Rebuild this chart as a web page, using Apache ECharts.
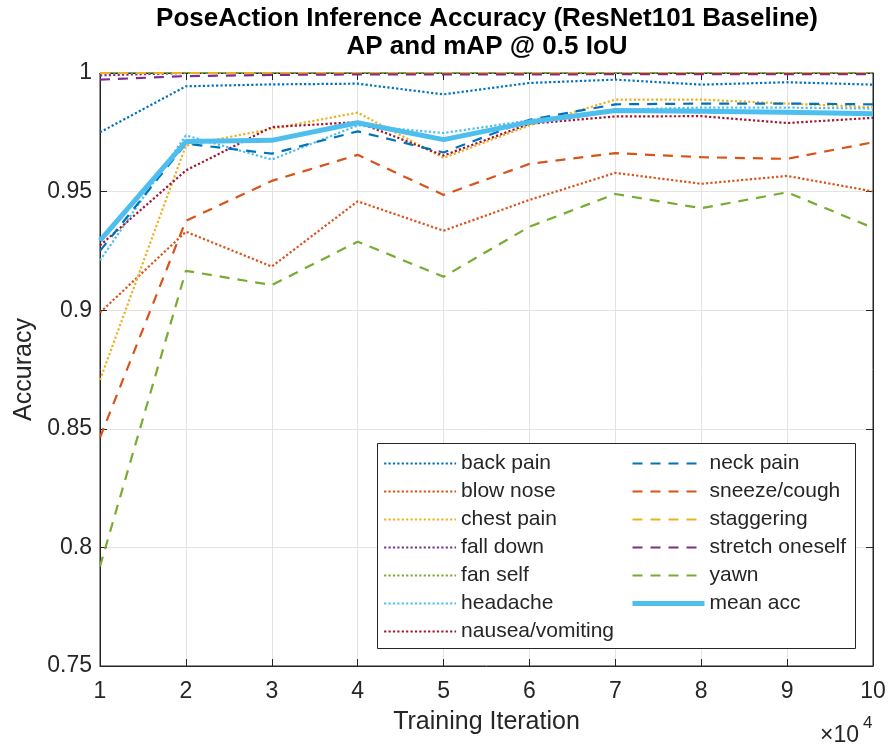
<!DOCTYPE html>
<html>
<head>
<meta charset="utf-8">
<title>PoseAction Inference Accuracy</title>
<script src="https://cdn.jsdelivr.net/npm/echarts@6/dist/echarts.min.js"></script>
<style>
  html, body { margin: 0; padding: 0; background: #ffffff; }
  #chart { width: 890px; height: 747px; }
</style>
</head>
<body>
<div id="chart"></div>
<script>
// Training iterations, in units of 10^4
const iterations = [1, 2, 3, 4, 5, 6, 7, 8, 9, 10];

// Per-class AP at 0.5 IoU
const backPain      = [0.975, 0.9944, 0.9952, 0.9955, 0.991, 0.9958, 0.9972, 0.9951, 0.9961, 0.9951];
const blowNose      = [0.899, 0.9331, 0.9184, 0.9459, 0.9335, 0.9465, 0.9579, 0.9533, 0.9566, 0.9501];
const chestPain     = [0.8706, 0.9694, 0.9765, 0.9833, 0.9642, 0.9779, 0.9888, 0.9888, 0.9871, 0.9856];
const fallDown      = [0.999, 1.0, 1.0, 1.0, 1.0, 1.0, 1.0, 1.0, 1.0, 1.0];
const fanSelf       = [1.0, 1.0, 1.0, 1.0, 1.0, 1.0, 1.0, 1.0, 1.0, 1.0];
const headache      = [0.921, 0.9737, 0.9635, 0.9779, 0.9747, 0.980, 0.9845, 0.9854, 0.9854, 0.985];
const nausea        = [0.9273, 0.9589, 0.9772, 0.9793, 0.9652, 0.9786, 0.9817, 0.9818, 0.9789, 0.9811];
const neckPain      = [0.925, 0.9702, 0.966, 0.9754, 0.9665, 0.9803, 0.9868, 0.9871, 0.9871, 0.9868];
const sneezeCough   = [0.8463, 0.9377, 0.9545, 0.9655, 0.9486, 0.9617, 0.9662, 0.9645, 0.9638, 0.9708];
const staggering    = [1.0, 1.0, 1.0, 1.0, 1.0, 1.0, 1.0, 1.0, 1.0, 1.0];
const stretchOneself= [0.9972, 0.9987, 0.9992, 0.9994, 0.9994, 0.9994, 0.9995, 0.9995, 0.9995, 0.9995];
const yawn          = [0.792, 0.9166, 0.9106, 0.9289, 0.9141, 0.9352, 0.949, 0.943, 0.9497, 0.9347];
const meanAcc       = [0.9293, 0.9711, 0.9716, 0.979, 0.9719, 0.9793, 0.9842, 0.9839, 0.9835, 0.9828];

// Axis tick labels
const yTicks = [0.75, 0.8, 0.85, 0.9, 0.95, 1];
const xTicks = [1, 2, 3, 4, 5, 6, 7, 8, 9, 10];

const FONT = '"Liberation Sans", Arial, Helvetica, sans-serif';
const AXIS_COLOR = '#262626';
const GRID_COLOR = '#e3e3e3';
const DOT = [2.2, 2.2];
const DASH = [10, 8];

const lineDefs = [
  { name: 'back pain',       data: backPain,       color: '#0072BD', dash: DOT,  width: 2.2 },
  { name: 'blow nose',       data: blowNose,       color: '#D95319', dash: DOT,  width: 2.2 },
  { name: 'chest pain',      data: chestPain,      color: '#EDB120', dash: DOT,  width: 2.2 },
  { name: 'fall down',       data: fallDown,       color: '#7E2F8E', dash: DOT,  width: 2.2 },
  { name: 'fan self',        data: fanSelf,        color: '#77AC30', dash: DOT,  width: 2.2 },
  { name: 'headache',        data: headache,       color: '#4DBEEE', dash: DOT,  width: 2.2 },
  { name: 'nausea/vomiting', data: nausea,         color: '#A2142F', dash: DOT,  width: 2.2 },
  { name: 'neck pain',       data: neckPain,       color: '#0072BD', dash: DASH, width: 2.2 },
  { name: 'sneeze/cough',    data: sneezeCough,    color: '#D95319', dash: DASH, width: 2.2 },
  { name: 'staggering',      data: staggering,     color: '#EDB120', dash: DASH, width: 2.2 },
  { name: 'stretch oneself', data: stretchOneself, color: '#7E2F8E', dash: DASH, width: 2.2 },
  { name: 'yawn',            data: yawn,           color: '#77AC30', dash: DASH, width: 2.2 },
  { name: 'mean acc',        data: meanAcc,        color: '#4DBEEE', dash: 'solid', width: 5 }
];

const series = lineDefs.map(function (d, i) {
  return {
    name: d.name,
    type: 'line',
    xAxisIndex: 0,
    yAxisIndex: 0,
    data: iterations.map(function (x, k) { return [x, d.data[k]]; }),
    symbol: 'none',
    showSymbol: false,
    clip: false,
    z: 2 + i * 0.01,
    itemStyle: { color: d.color },
    lineStyle: { color: d.color, width: d.width, type: d.dash, cap: 'butt' },
    emphasis: { disabled: true },
    animation: false
  };
});

// legend entries carry the same stroke width as their series
function legendEntries(defs) {
  return defs.map(function (d) {
    return { name: d.name, lineStyle: { width: d.width, type: d.dash, color: d.color } };
  });
}

const PLOT = { left: 100, right: 873, top: 73, bottom: 666 };

const legendText = { fontFamily: FONT, fontSize: 21, color: AXIS_COLOR, lineHeight: 21 };
const legendCommon = {
  orient: 'vertical',
  itemWidth: 72,
  itemHeight: 14,
  itemGap: 7,
  padding: 0,
  selectedMode: false,
  textStyle: legendText,
  // legend keys show only the line sample, no marker
  itemStyle: { color: 'rgba(0,0,0,0)', borderColor: 'rgba(0,0,0,0)', borderWidth: 0 },
  z: 10
};

const option = {
  backgroundColor: '#ffffff',
  animation: false,
  grid: {
    left: PLOT.left,
    right: 890 - PLOT.right,
    top: PLOT.top,
    bottom: 747 - PLOT.bottom,
    show: true,
    borderColor: AXIS_COLOR,
    borderWidth: 1,
    backgroundColor: '#ffffff'
  },
  xAxis: [
    {
      type: 'value', min: 1, max: 10, interval: 1, position: 'bottom',
      name: 'Training Iteration', nameLocation: 'middle', nameGap: 44,
      nameTextStyle: { fontFamily: FONT, fontSize: 25, color: AXIS_COLOR },
      axisLine: { show: true, lineStyle: { color: AXIS_COLOR, width: 1 } },
      axisTick: { show: true, inside: true, length: 7, lineStyle: { color: AXIS_COLOR } },
      axisLabel: {
        margin: 14, fontFamily: FONT, fontSize: 23, color: AXIS_COLOR,
        formatter: function (v) { return xTicks.indexOf(v) >= 0 ? String(v) : ''; }
      },
      splitLine: { show: true, lineStyle: { color: GRID_COLOR, width: 1 } }
    },
    {
      type: 'value', min: 1, max: 10, interval: 1, position: 'top',
      axisLine: { show: true, lineStyle: { color: AXIS_COLOR, width: 1 } },
      axisTick: { show: true, inside: true, length: 7, lineStyle: { color: AXIS_COLOR } },
      axisLabel: { show: false },
      splitLine: { show: false }
    }
  ],
  yAxis: [
    {
      type: 'value', min: 0.75, max: 1, interval: 0.05, position: 'left',
      name: 'Accuracy', nameLocation: 'middle', nameGap: 62, nameRotate: 90,
      nameTextStyle: { fontFamily: FONT, fontSize: 25, color: AXIS_COLOR },
      axisLine: { show: true, lineStyle: { color: AXIS_COLOR, width: 1 } },
      axisTick: { show: true, inside: true, length: 7, lineStyle: { color: AXIS_COLOR } },
      axisLabel: {
        margin: 8, fontFamily: FONT, fontSize: 23, color: AXIS_COLOR,
        formatter: function (v) {
          const t = yTicks.find(function (y) { return Math.abs(y - v) < 1e-9; });
          return t === undefined ? '' : String(t);
        }
      },
      splitLine: { show: true, lineStyle: { color: GRID_COLOR, width: 1 } }
    },
    {
      type: 'value', min: 0.75, max: 1, interval: 0.05, position: 'right',
      axisLine: { show: true, lineStyle: { color: AXIS_COLOR, width: 1 } },
      axisTick: { show: true, inside: true, length: 7, lineStyle: { color: AXIS_COLOR } },
      axisLabel: { show: false },
      splitLine: { show: false }
    }
  ],
  legend: [
    Object.assign({}, legendCommon, {
      left: 383, top: 453,
      data: legendEntries(lineDefs.slice(0, 7))
    }),
    Object.assign({}, legendCommon, {
      left: 630, top: 453,
      data: legendEntries(lineDefs.slice(7))
    })
  ],
  graphic: [
    {
      type: 'text', x: 487, y: 19, z: 20,
      style: {
        text: 'PoseAction Inference Accuracy (ResNet101 Baseline)',
        font: 'bold 26px ' + FONT, fill: '#000000',
        textAlign: 'center', textVerticalAlign: 'middle'
      }
    },
    {
      type: 'text', x: 487, y: 47, z: 20,
      style: {
        text: 'AP and mAP @ 0.5 IoU',
        font: 'bold 26px ' + FONT, fill: '#000000',
        textAlign: 'center', textVerticalAlign: 'middle'
      }
    },
    {
      type: 'rect', z: 9,
      shape: { x: 377.5, y: 443.5, width: 478, height: 205 },
      style: { fill: '#ffffff', stroke: AXIS_COLOR, lineWidth: 1 }
    },
    {
      type: 'text', x: 820, y: 736, z: 20,
      style: {
        text: '\u00d710', font: '23px ' + FONT, fill: AXIS_COLOR,
        textAlign: 'left', textVerticalAlign: 'middle'
      }
    },
    {
      type: 'text', x: 863, y: 723, z: 20,
      style: {
        text: '4', font: '17px ' + FONT, fill: AXIS_COLOR,
        textAlign: 'left', textVerticalAlign: 'middle'
      }
    }
  ],
  series: series
};

const chart = echarts.init(document.getElementById('chart'), null, { renderer: 'canvas' });
chart.setOption(option);
</script>
</body>
</html>
